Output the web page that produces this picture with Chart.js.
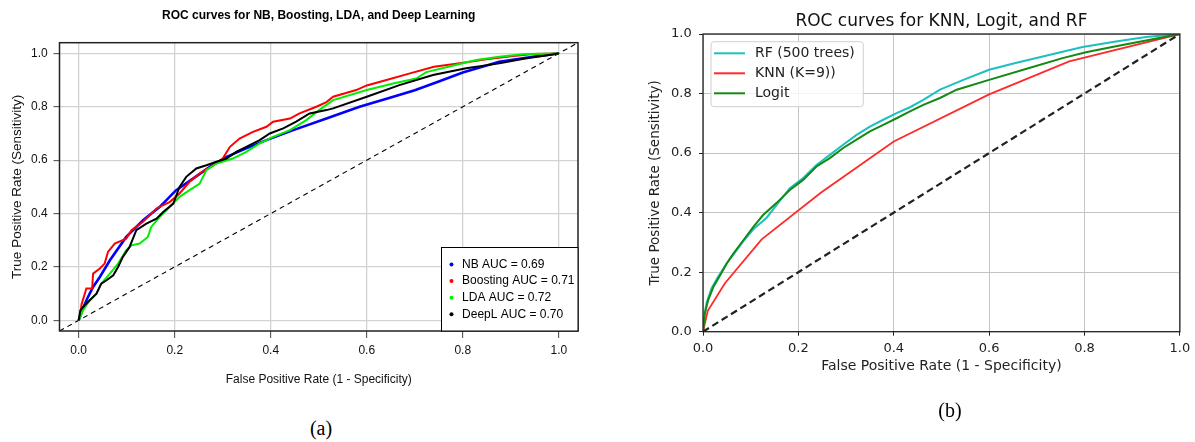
<!DOCTYPE html>
<html>
<head>
<meta charset="utf-8">
<script src="https://cdn.jsdelivr.net/npm/chart.js@4.4.1/dist/chart.umd.min.js"></script>
<style>
  body { margin: 0; background: #fff; width: 1195px; height: 442px; position: relative; overflow: hidden; }
  canvas { position: absolute; top: 0; }
  #chartA { left: 0; }
  #chartB { left: 600px; }
  .cap { position: absolute; font-family: "Liberation Serif", serif; font-size: 20px; color: #000; transform: translate(-50%, -50%); }
</style>
</head>
<body>
<canvas id="chartA" width="600" height="400"></canvas>
<canvas id="chartB" width="595" height="400"></canvas>
<div class="cap" style="left:321px; top:428px">(a)</div>
<div class="cap" style="left:950px; top:410px">(b)</div>
<script>
// tick positions shared by both panels
const axisTicks = [0, 0.2, 0.4, 0.6, 0.8, 1.0];

// ---- panel (a): R plot, axes padded 4% ----
const diagA = [-0.04, 1.04];

const nbFpr = [0, 0.01, 0.02, 0.03, 0.044, 0.065, 0.099, 0.134, 0.169, 0.203, 0.238, 0.273, 0.308, 0.349, 0.391, 0.447, 0.516, 0.585, 0.65, 0.70, 0.75, 0.80, 0.876, 0.946, 1.0];
const nbTpr = [0, 0.05, 0.09, 0.125, 0.1625, 0.225, 0.3125, 0.375, 0.425, 0.4875, 0.531, 0.575, 0.6125, 0.644, 0.675, 0.7125, 0.756, 0.80, 0.835, 0.862, 0.895, 0.928, 0.969, 0.9875, 1.0];

const boostFpr = [0, 0.004, 0.006, 0.016, 0.028, 0.030, 0.044, 0.054, 0.061, 0.075, 0.099, 0.11, 0.134, 0.162, 0.19, 0.21, 0.231, 0.252, 0.28, 0.30, 0.315, 0.335, 0.363, 0.391, 0.405, 0.44, 0.46, 0.495, 0.516, 0.53, 0.578, 0.60, 0.641, 0.69, 0.74, 0.79, 0.849, 0.905, 0.947, 1.0];
const boostTpr = [0, 0.03, 0.06, 0.119, 0.119, 0.175, 0.194, 0.2125, 0.256, 0.2875, 0.306, 0.3375, 0.369, 0.419, 0.444, 0.475, 0.519, 0.55, 0.581, 0.606, 0.65, 0.681, 0.706, 0.725, 0.744, 0.756, 0.775, 0.80, 0.8175, 0.8375, 0.8625, 0.88, 0.90, 0.925, 0.95, 0.9625, 0.9775, 0.99, 0.9975, 1.0];

const ldaFpr = [0, 0.009, 0.023, 0.037, 0.047, 0.065, 0.082, 0.099, 0.11, 0.127, 0.144, 0.151, 0.169, 0.19, 0.21, 0.231, 0.252, 0.266, 0.287, 0.321, 0.349, 0.377, 0.405, 0.44, 0.474, 0.495, 0.53, 0.60, 0.655, 0.703, 0.724, 0.77, 0.828, 0.876, 0.93, 1.0];
const ldaTpr = [0, 0.0375, 0.075, 0.1, 0.1375, 0.175, 0.2125, 0.2625, 0.281, 0.2875, 0.3125, 0.35, 0.3875, 0.425, 0.4625, 0.4875, 0.5125, 0.5625, 0.5875, 0.606, 0.631, 0.6625, 0.6875, 0.7125, 0.75, 0.78, 0.825, 0.8625, 0.8875, 0.906, 0.93, 0.95, 0.975, 0.9875, 0.9975, 1.0];

const deepFpr = [0, 0.0035, 0.0125, 0.023, 0.037, 0.047, 0.058, 0.072, 0.082, 0.092, 0.106, 0.12, 0.141, 0.162, 0.176, 0.197, 0.21, 0.224, 0.245, 0.266, 0.287, 0.308, 0.328, 0.349, 0.377, 0.398, 0.426, 0.453, 0.481, 0.516, 0.53, 0.60, 0.668, 0.738, 0.807, 0.876, 0.93, 0.98, 1.0];
const deepTpr = [0, 0.0375, 0.056, 0.075, 0.1, 0.1375, 0.15, 0.169, 0.2, 0.2375, 0.275, 0.3375, 0.3625, 0.381, 0.406, 0.4375, 0.5, 0.5375, 0.569, 0.581, 0.594, 0.606, 0.631, 0.65, 0.675, 0.7, 0.719, 0.744, 0.775, 0.7875, 0.794, 0.8375, 0.881, 0.919, 0.944, 0.9625, 0.981, 0.994, 1.0];

const labelsA = ['NB AUC = 0.69', 'Boosting AUC = 0.71', 'LDA AUC = 0.72', 'DeepL AUC = 0.70'];

// ---- panel (b): matplotlib plot ----
const diagB = [0, 1];

const rfFpr = [0, 0.002, 0.008, 0.018, 0.032, 0.05, 0.064, 0.085, 0.106, 0.133, 0.154, 0.182, 0.21, 0.238, 0.266, 0.294, 0.322, 0.35, 0.378, 0.406, 0.434, 0.462, 0.497, 0.546, 0.6, 0.649, 0.719, 0.796, 0.866, 0.929, 1.0];
const rfTpr = [0, 0.05, 0.1, 0.146, 0.185, 0.23, 0.26, 0.305, 0.345, 0.382, 0.425, 0.482, 0.516, 0.56, 0.594, 0.628, 0.661, 0.689, 0.712, 0.734, 0.754, 0.779, 0.813, 0.846, 0.88, 0.9, 0.927, 0.956, 0.975, 0.99, 1.0];

const knnFpr = [0, 0.01, 0.046, 0.123, 0.247, 0.4, 0.6, 0.768, 1.0];
const knnTpr = [0, 0.07, 0.163, 0.31, 0.467, 0.639, 0.797, 0.908, 1.0];

const logitFpr = [0, 0.004, 0.011, 0.022, 0.036, 0.05, 0.064, 0.085, 0.106, 0.126, 0.154, 0.182, 0.21, 0.238, 0.266, 0.294, 0.322, 0.35, 0.378, 0.406, 0.434, 0.462, 0.497, 0.532, 0.6, 0.684, 0.754, 0.803, 0.866, 0.929, 1.0];
const logitTpr = [0, 0.062, 0.107, 0.151, 0.19, 0.23, 0.263, 0.308, 0.353, 0.392, 0.432, 0.476, 0.51, 0.555, 0.583, 0.617, 0.645, 0.673, 0.695, 0.717, 0.74, 0.762, 0.785, 0.813, 0.846, 0.886, 0.919, 0.939, 0.959, 0.978, 1.0];

const labelsB = ['RF (500 trees)', 'KNN (K=9))', 'Logit'];

const pts = (xs, ys) => xs.map((x, i) => ({x: x, y: ys[i]}));
const tickFmt = v => v.toFixed(1);

// ---------- panel (a) ----------
const fontA = 'Liberation Sans, Arial, sans-serif';

// box around the plot + legend in bottom right corner (R style)
const boxA = {
  id: 'boxA',
  afterDatasetsDraw(chart) {
    const {ctx, chartArea: a} = chart;
    ctx.save();
    ctx.strokeStyle = '#222';
    ctx.lineWidth = 1.5;
    ctx.strokeRect(a.left, a.top, a.right - a.left, a.bottom - a.top);

    const w = 136.5, h = 83.5;
    const x0 = a.right - w, y0 = a.bottom - h;
    ctx.fillStyle = '#fff';
    ctx.fillRect(x0, y0, w, h);
    ctx.lineWidth = 1;
    ctx.strokeStyle = '#000';
    ctx.strokeRect(x0, y0, w, h);
    ctx.font = '12px ' + fontA;
    ctx.textBaseline = 'middle';
    chart.data.datasets.filter(d => d.label).forEach((d, i) => {
      const y = y0 + 17 + i * 16.6;
      ctx.fillStyle = d.borderColor;
      ctx.beginPath();
      ctx.arc(x0 + 10, y, 2, 0, Math.PI * 2);
      ctx.fill();
      ctx.fillStyle = '#000';
      ctx.fillText(d.label, x0 + 20.6, y);
    });
    ctx.restore();
  }
};

new Chart(document.getElementById('chartA'), {
  type: 'scatter',
  data: {
    datasets: [
      {label: labelsA[0], data: pts(nbFpr, nbTpr), borderColor: '#0000ff', borderWidth: 2.6, order: 4},
      {label: labelsA[1], data: pts(boostFpr, boostTpr), borderColor: '#ff0000', borderWidth: 2, order: 3},
      {label: labelsA[2], data: pts(ldaFpr, ldaTpr), borderColor: '#00ee00', borderWidth: 2, order: 2},
      {label: labelsA[3], data: pts(deepFpr, deepTpr), borderColor: '#000000', borderWidth: 2, order: 1},
      {label: '', data: pts(diagA, diagA), borderColor: '#000', borderWidth: 1.1, borderDash: [5, 4], order: 5}
    ].map(d => Object.assign(d, {showLine: true, pointRadius: 0, tension: 0, fill: false}))
  },
  options: {
    responsive: false,
    animation: false,
    events: [],
    layout: {padding: {left: 0, right: 22, top: 0, bottom: 0}},
    plugins: {
      legend: {display: false},
      tooltip: {enabled: false},
      title: {
        display: true,
        fullSize: false,
        text: 'ROC curves for NB, Boosting, LDA, and Deep Learning',
        color: '#000',
        font: {family: fontA, size: 12, weight: 'bold'},
        padding: {top: 8, bottom: 20.3}
      }
    },
    scales: {
      x: {
        type: 'linear', min: diagA[0], max: diagA[1],
        afterBuildTicks: s => { s.ticks = axisTicks.map(v => ({value: v})); },
        afterFit: s => { s.height = 69; },
        border: {display: false},
        grid: {color: '#d3d3d3', lineWidth: 1.3, tickColor: '#444', tickLength: 7, tickWidth: 1},
        ticks: {padding: 5.8, color: '#111', font: {family: fontA, size: 12}, callback: tickFmt, maxRotation: 0, autoSkip: false},
        title: {display: true, text: 'False Positive Rate (1 - Specificity)', color: '#111',
                font: {family: fontA, size: 12}, padding: {top: 0, bottom: 13.3}}
      },
      y: {
        type: 'linear', min: diagA[0], max: diagA[1],
        afterBuildTicks: s => { s.ticks = axisTicks.map(v => ({value: v})); },
        afterFit: s => { s.width = 59.5; },
        border: {display: false},
        grid: {color: '#d3d3d3', lineWidth: 1.3, tickColor: '#444', tickLength: 6, tickWidth: 1},
        ticks: {padding: 5.8, color: '#111', font: {family: fontA, size: 12}, callback: tickFmt, autoSkip: false},
        title: {display: true, text: 'True Positive Rate (Sensitivity)', color: '#111',
                font: {family: fontA, size: 13.5}, padding: {top: 8.9, bottom: 0}}
      }
    }
  },
  plugins: [boxA]
});

// ---------- panel (b) ----------
const fontB = 'DejaVu Sans, sans-serif';

const boxB = {
  id: 'boxB',
  afterDatasetsDraw(chart) {
    const {ctx, chartArea: a} = chart;
    ctx.save();
    ctx.strokeStyle = '#222';
    ctx.lineWidth = 1.3;
    ctx.strokeRect(a.left, a.top, a.right - a.left, a.bottom - a.top);

    // matplotlib style legend, upper left
    const x0 = a.left + 8, y0 = a.top + 7.7, w = 152.3, h = 65, r = 3;
    ctx.beginPath();
    ctx.moveTo(x0 + r, y0);
    ctx.lineTo(x0 + w - r, y0);
    ctx.arcTo(x0 + w, y0, x0 + w, y0 + r, r);
    ctx.lineTo(x0 + w, y0 + h - r);
    ctx.arcTo(x0 + w, y0 + h, x0 + w - r, y0 + h, r);
    ctx.lineTo(x0 + r, y0 + h);
    ctx.arcTo(x0, y0 + h, x0, y0 + h - r, r);
    ctx.lineTo(x0, y0 + r);
    ctx.arcTo(x0, y0, x0 + r, y0, r);
    ctx.closePath();
    ctx.fillStyle = 'rgba(255,255,255,0.8)';
    ctx.fill();
    ctx.strokeStyle = '#d0d0d0';
    ctx.lineWidth = 1;
    ctx.stroke();

    ctx.font = '14px ' + fontB;
    ctx.textBaseline = 'middle';
    chart.data.datasets.filter(d => d.label).forEach((d, i) => {
      const y = y0 + 11.6 + i * 20;
      ctx.strokeStyle = d.borderColor;
      ctx.lineWidth = 2;
      ctx.beginPath();
      ctx.moveTo(x0 + 3, y);
      ctx.lineTo(x0 + 34, y);
      ctx.stroke();
      ctx.fillStyle = '#222';
      ctx.fillText(d.label, x0 + 44, y);
    });
    ctx.restore();
  }
};

new Chart(document.getElementById('chartB'), {
  type: 'scatter',
  data: {
    datasets: [
      {label: labelsB[0], data: pts(rfFpr, rfTpr), borderColor: '#1fbfbf', borderWidth: 2, order: 4},
      {label: labelsB[1], data: pts(knnFpr, knnTpr), borderColor: '#ff2a2a', borderWidth: 1.8, order: 3},
      {label: labelsB[2], data: pts(logitFpr, logitTpr), borderColor: '#138a13', borderWidth: 2, order: 2},
      {label: '', data: pts(diagB, diagB), borderColor: '#222', borderWidth: 2.2, borderDash: [7, 4], order: 1}
    ].map(d => Object.assign(d, {showLine: true, pointRadius: 0, tension: 0, fill: false}))
  },
  options: {
    responsive: false,
    animation: false,
    events: [],
    layout: {padding: {left: 0, right: 15, top: 0, bottom: 0}},
    plugins: {
      legend: {display: false},
      tooltip: {enabled: false},
      title: {
        display: true,
        fullSize: false,
        text: 'ROC curves for KNN, Logit, and RF',
        color: '#111',
        font: {family: fontB, size: 17, weight: 'normal'},
        padding: {top: 11.5, bottom: 2.1}
      }
    },
    scales: {
      x: {
        type: 'linear', min: diagB[0], max: diagB[1],
        afterBuildTicks: s => { s.ticks = axisTicks.map(v => ({value: v})); },
        afterFit: s => { s.height = 68.3; },
        border: {display: false},
        grid: {color: '#c4c4c4', lineWidth: 1, tickColor: '#222', tickLength: 4, tickWidth: 1},
        ticks: {padding: 4.8, color: '#222', font: {family: fontB, size: 13}, callback: tickFmt, maxRotation: 0, autoSkip: false},
        title: {display: true, text: 'False Positive Rate (1 - Specificity)', color: '#222',
                font: {family: fontB, size: 14}, padding: {top: 0, bottom: 24.9}}
      },
      y: {
        type: 'linear', min: diagB[0], max: diagB[1],
        afterBuildTicks: s => { s.ticks = axisTicks.map(v => ({value: v})); },
        afterFit: s => { s.width = 103; },
        border: {display: false},
        grid: {color: '#c4c4c4', lineWidth: 1, tickColor: '#222', tickLength: 4, tickWidth: 1},
        ticks: {padding: 7.3, color: '#222', font: {family: fontB, size: 13}, callback: tickFmt, autoSkip: false},
        title: {display: true, text: 'True Positive Rate (Sensitivity)', color: '#222',
                font: {family: fontB, size: 13.5}, padding: {top: 46.9, bottom: 0}}
      }
    }
  },
  plugins: [boxB]
});
</script>
</body>
</html>
